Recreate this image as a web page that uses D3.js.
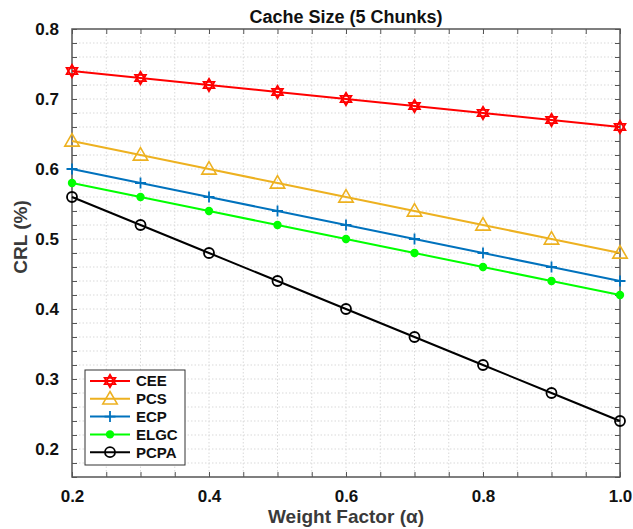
<!DOCTYPE html>
<html>
<head>
<meta charset="utf-8">
<script src="https://cdn.jsdelivr.net/npm/d3@7"></script>
<style>
  body { margin: 0; background: #fff; }
  svg text { font-family: "Liberation Sans", Arial, sans-serif; font-weight: bold; }
</style>
</head>
<body>
<div id="chart"></div>
<script>
// data
const weights = [0.2, 0.3, 0.4, 0.5, 0.6, 0.7, 0.8, 0.9, 1.0];
const cee  = [0.74, 0.73, 0.72, 0.71, 0.70, 0.69, 0.68, 0.67, 0.66];
const pcs  = [0.64, 0.62, 0.60, 0.58, 0.56, 0.54, 0.52, 0.50, 0.48];
const ecp  = [0.60, 0.58, 0.56, 0.54, 0.52, 0.50, 0.48, 0.46, 0.44];
const elgc = [0.58, 0.56, 0.54, 0.52, 0.50, 0.48, 0.46, 0.44, 0.42];
const pcpa = [0.56, 0.52, 0.48, 0.44, 0.40, 0.36, 0.32, 0.28, 0.24];
const xTicks = [0.2, 0.4, 0.6, 0.8, 1.0];
const yTicks = [0.2, 0.3, 0.4, 0.5, 0.6, 0.7, 0.8];

const series = [
    {name: 'CEE',  values: cee,  color: '#ff0000', marker: 'hexagram'},
    {name: 'PCS',  values: pcs,  color: '#edb120', marker: 'triangle'},
    {name: 'ECP',  values: ecp,  color: '#0072bd', marker: 'plus'},
    {name: 'ELGC', values: elgc, color: '#00ff00', marker: 'dot'},
    {name: 'PCPA', values: pcpa, color: '#000000', marker: 'circle'}
];

const W = 633, H = 529;
const margin = {top: 29, right: 13, bottom: 52, left: 72};
const width = W - margin.left - margin.right;
const height = H - margin.top - margin.bottom;

const svg = d3.select('#chart').append('svg')
    .attr('width', W)
    .attr('height', H);

const g = svg.append('g')
    .attr('transform', 'translate(' + margin.left + ',' + margin.top + ')');

const x = d3.scaleLinear().domain([0.2, 1.0]).range([0, width]);
const y = d3.scaleLinear().domain([0.16, 0.8]).range([height, 0]);

const xMinor = d3.range(0.2, 1.0001, 0.05);
const yMinor = d3.range(0.16, 0.8001, 0.02);

// dotted grid
g.append('g').selectAll('line')
    .data(xMinor.slice(1, -1))
    .enter().append('line')
    .attr('x1', d => x(d)).attr('x2', d => x(d))
    .attr('y1', 0).attr('y2', height)
    .attr('stroke', '#d9d9d9')
    .attr('stroke-dasharray', '1.5,2');
g.append('g').selectAll('line')
    .data(yMinor.slice(1, -1))
    .enter().append('line')
    .attr('y1', d => y(d)).attr('y2', d => y(d))
    .attr('x1', 0).attr('x2', width)
    .attr('stroke', '#d9d9d9')
    .attr('stroke-dasharray', '1.5,2');

// axes (ticks inward, on all four sides)
const axisColor = '#555';
function styleAxis(sel) {
    sel.select('.domain').remove();
    sel.selectAll('.tick line').attr('stroke', axisColor);
    sel.selectAll('.tick text')
        .attr('fill', '#111')
        .style('font-size', '17px');
}

g.append('g')
    .attr('transform', 'translate(0,' + height + ')')
    .call(d3.axisBottom(x).tickValues(xMinor).tickSize(-5).tickPadding(13)
        .tickFormat(d => xTicks.some(t => Math.abs(t - d) < 1e-6) ? d3.format('.1f')(d) : ''))
    .call(styleAxis);
g.append('g')
    .call(d3.axisTop(x).tickValues(xMinor).tickSize(-5).tickFormat(''))
    .call(styleAxis);
g.append('g')
    .call(d3.axisLeft(y).tickValues(yMinor).tickSize(-5).tickPadding(13)
        .tickFormat(d => yTicks.some(t => Math.abs(t - d) < 1e-6) ? d3.format('.1f')(d) : ''))
    .call(styleAxis);
g.append('g')
    .attr('transform', 'translate(' + width + ',0)')
    .call(d3.axisRight(y).tickValues(yMinor).tickSize(-5).tickFormat(''))
    .call(styleAxis);

g.append('rect')
    .attr('width', width).attr('height', height)
    .attr('fill', 'none')
    .attr('stroke', axisColor)
    .attr('stroke-width', 1.5);

// markers
function drawMarker(sel, type, color) {
    if (type === 'hexagram') {
        sel.append('path')
            .attr('d', d3.symbol(d3.symbolTriangle, 50)())
            .attr('fill', 'none').attr('stroke', color).attr('stroke-width', 1.8);
        sel.append('path')
            .attr('d', d3.symbol(d3.symbolTriangle, 50)())
            .attr('transform', 'rotate(180)')
            .attr('fill', 'none').attr('stroke', color).attr('stroke-width', 1.8);
    } else if (type === 'triangle') {
        sel.append('path')
            .attr('d', d3.symbol(d3.symbolTriangle, 90)())
            .attr('transform', 'translate(0,1)')
            .attr('fill', 'none').attr('stroke', color).attr('stroke-width', 1.6);
    } else if (type === 'plus') {
        sel.append('path')
            .attr('d', 'M-5.5,0H5.5M0,-5.5V5.5')
            .attr('stroke', color).attr('stroke-width', 1.8);
    } else if (type === 'dot') {
        sel.append('circle').attr('r', 4.2).attr('fill', color);
    } else if (type === 'circle') {
        sel.append('circle').attr('r', 5)
            .attr('fill', 'none').attr('stroke', color).attr('stroke-width', 1.8);
    }
}

const line = d3.line()
    .x((d, i) => x(weights[i]))
    .y(d => y(d));

series.forEach(s => {
    g.append('path')
        .datum(s.values)
        .attr('d', line)
        .attr('fill', 'none')
        .attr('stroke', s.color)
        .attr('stroke-width', 2);
    g.selectAll(null)
        .data(s.values)
        .enter().append('g')
        .attr('transform', (d, i) => 'translate(' + x(weights[i]) + ',' + y(d) + ')')
        .each(function() { drawMarker(d3.select(this), s.marker, s.color); });
});

// legend
const legend = g.append('g')
    .attr('transform', 'translate(' + (85 - margin.left) + ',' + (370 - margin.top) + ')');
legend.append('rect')
    .attr('width', 100).attr('height', 95)
    .attr('fill', '#fff')
    .attr('stroke', '#333')
    .attr('stroke-width', 1);
series.forEach((s, i) => {
    const row = legend.append('g')
        .attr('transform', 'translate(0,' + (11 + i * 17.8) + ')');
    row.append('line')
        .attr('x1', 5).attr('x2', 45)
        .attr('stroke', s.color).attr('stroke-width', 2);
    const m = row.append('g').attr('transform', 'translate(25,0)');
    drawMarker(m, s.marker, s.color);
    row.append('text')
        .attr('x', 51).attr('dy', '0.36em')
        .style('font-size', '15px')
        .attr('fill', '#111')
        .text(s.name);
});

// titles
svg.append('text')
    .attr('x', margin.left + width / 2).attr('y', 23)
    .attr('text-anchor', 'middle')
    .style('font-size', '18px')
    .attr('fill', '#111')
    .text('Cache Size (5 Chunks)');

svg.append('text')
    .attr('x', margin.left + width / 2).attr('y', 523)
    .attr('text-anchor', 'middle')
    .style('font-size', '19px')
    .attr('fill', '#3a3a3a')
    .text('Weight Factor (α)');

svg.append('text')
    .attr('transform', 'translate(27,' + 237 + ') rotate(-90)')
    .attr('text-anchor', 'middle')
    .style('font-size', '19px')
    .attr('fill', '#3a3a3a')
    .text('CRL (%)');
</script>
</body>
</html>
